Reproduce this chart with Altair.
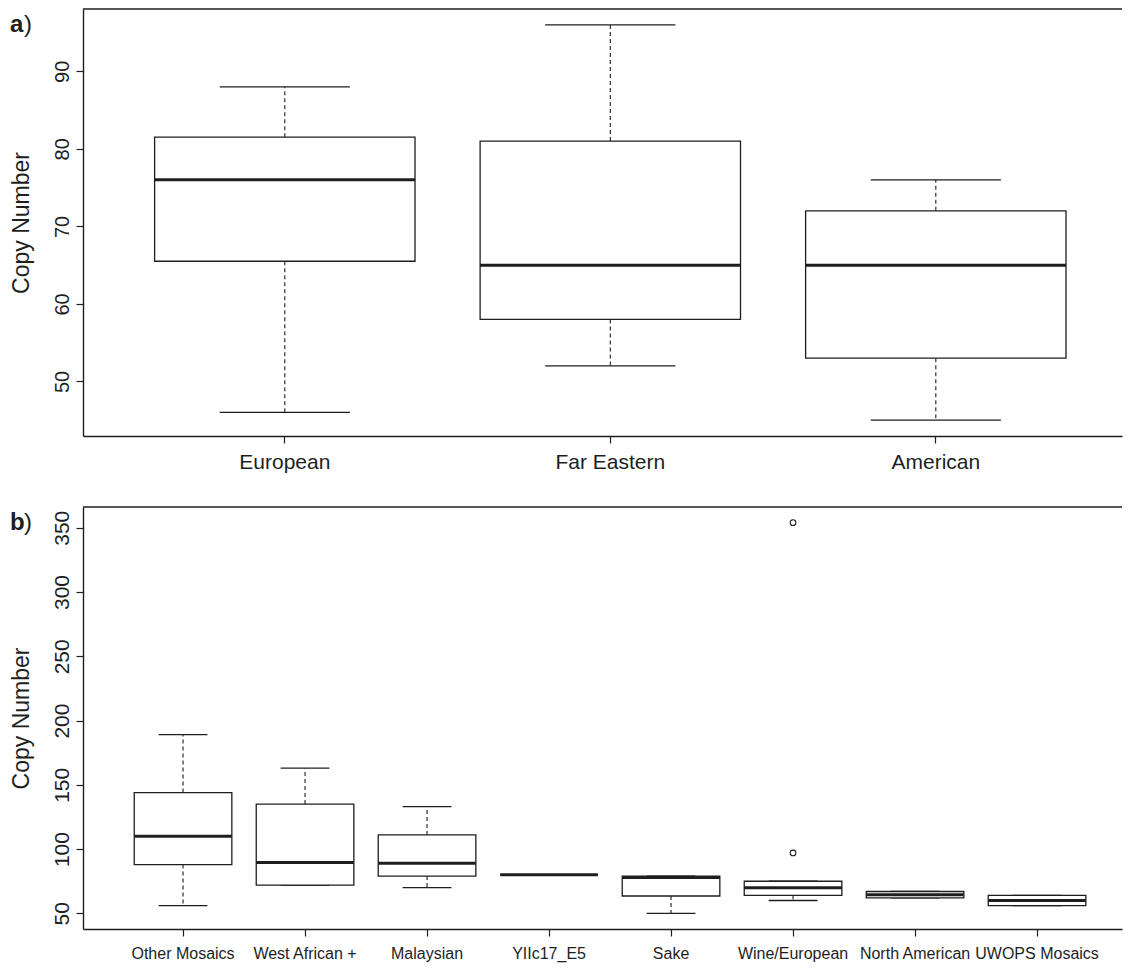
import altair as alt
import pandas as pd

# ---------------- data ----------------
# panel a
groups_a = ["European", "Far Eastern", "American"]
lower_a = [46, 52, 45]
q1_a = [65.5, 58, 53]
median_a = [76, 65, 65]
q3_a = [81.5, 81, 72]
upper_a = [88, 96, 76]
outlier_groups_a = []
outlier_values_a = []
yticks_a = [50, 60, 70, 80, 90]

# panel b
groups_b = ["Other Mosaics", "West African +", "Malaysian", "YIIc17_E5",
            "Sake", "Wine/European", "North American", "UWOPS Mosaics"]
lower_b = [56, 72, 70, 80, 50, 60, 62, 56]
q1_b = [88, 72, 79, 80, 63.5, 64, 62, 56]
median_b = [110, 89.5, 89, 80, 78, 70, 64.5, 60]
q3_b = [144, 135, 111, 80, 79, 75, 67, 64]
upper_b = [189, 163, 133, 80, 79, 75, 67, 64]
outlier_groups_b = ["Wine/European", "Wine/European"]
outlier_values_b = [354, 97]
yticks_b = [50, 100, 150, 200, 250, 300, 350]

# ---------------- styling ----------------
INK = "#1e1e1e"
FONT = "Liberation Sans"
W = 1039          # visible plot width (the reference frame runs off the right edge)


def panel(groups, lower, q1, med, q3, upper, out_g, out_v, yticks, letter,
          step, H, xlab_size, xlab_pad, ylab_size):
    n = len(groups)
    # R-style layout: boxes 0.8 wide, 4 % axis extension on each side
    left_units = 0.04 * n + 0.5 - 0.4           # gap before first box, in steps
    pad_outer = (W / step - (n - 0.2)) / 2
    align = (left_units * step) / (W - step * (n - 0.2))
    band = 0.8 * step
    cap = 0.4 * step
    allv = lower + upper + out_v
    lo, hi = min(allv), max(allv)
    ext = 0.04 * (hi - lo)
    dom = [lo - ext, hi + ext]

    df = pd.DataFrame(dict(group=groups, lower=lower, q1=q1, median=med,
                           q3=q3, upper=upper))
    xs = alt.Scale(type="band", domain=groups, paddingInner=0.2,
                   paddingOuter=pad_outer, align=align)
    ys = alt.Scale(domain=dom, nice=False, zero=False)

    xaxis = alt.Axis(title=None, labelFontSize=xlab_size, labelPadding=xlab_pad,
                     tickSize=7, tickColor=INK, tickWidth=1.2, domainColor=INK,
                     domainWidth=1.4, labelColor=INK, labelFont=FONT,
                     labelAngle=0, labelOverlap=False, grid=False)
    yaxis = alt.Axis(title="Copy Number", values=yticks, labelAngle=270,
                     labelAlign="center", labelBaseline="middle",
                     labelPadding=14, labelFontSize=ylab_size, labelColor=INK,
                     labelFont=FONT, labelOverlap=False, tickSize=7,
                     tickColor=INK, tickWidth=1.2, domainColor=INK,
                     domainWidth=1.4, grid=False, titleFont=FONT,
                     titleFontSize=23, titleFontWeight="normal",
                     titleColor=INK, titleAngle=270, titleAlign="center",
                     titleBaseline="bottom", titleX=-50, titleY=H / 2)

    # every layer carries the identical axis definition so they merge cleanly
    def Xe():
        return alt.X("group:N", scale=xs, axis=xaxis)

    def Ye(f):
        return alt.Y(f + ":Q", scale=ys, axis=yaxis)

    base = alt.Chart(df)
    whisk_up = base.mark_rule(color=INK, strokeWidth=1.1, strokeDash=[4, 3]).encode(
        x=Xe(), y=Ye("q3"), y2="upper:Q")
    whisk_lo = base.mark_rule(color=INK, strokeWidth=1.1, strokeDash=[4, 3]).encode(
        x=Xe(), y=Ye("q1"), y2="lower:Q")
    cap_up = base.mark_tick(color=INK, size=cap, thickness=1.3, opacity=1,
                            orient="horizontal").encode(x=Xe(), y=Ye("upper"))
    cap_lo = base.mark_tick(color=INK, size=cap, thickness=1.3, opacity=1,
                            orient="horizontal").encode(x=Xe(), y=Ye("lower"))
    box = base.mark_bar(fill="white", stroke=INK, strokeWidth=1.3, opacity=1).encode(
        x=Xe(), y=Ye("q1"), y2="q3:Q")
    mid = base.mark_tick(color=INK, size=band, thickness=3, opacity=1,
                         orient="horizontal").encode(x=Xe(), y=Ye("median"))
    layers = [whisk_up, whisk_lo, cap_up, cap_lo, box, mid]

    if out_v:
        odf = pd.DataFrame(dict(group=out_g, value=out_v))
        pts = alt.Chart(odf).mark_point(shape="circle", filled=False, size=32,
                                        strokeWidth=1.1, color=INK, opacity=1).encode(
            x=Xe(), y=Ye("value"))
        layers.append(pts)

    one = pd.DataFrame({"k": [0]})
    top = alt.Chart(one).mark_rule(color=INK, strokeWidth=1.4).encode(
        x=alt.value(0), x2=alt.value("width"), y=alt.value(0))
    let1 = alt.Chart(one).mark_text(text=letter, font=FONT, fontSize=24,
                                    fontWeight="bold", align="left",
                                    baseline="top", color=INK).encode(
        x=alt.value(-73), y=alt.value(3.5))
    let2 = alt.Chart(one).mark_text(text=")", font=FONT, fontSize=24,
                                    align="left", baseline="top",
                                    color=INK).encode(
        x=alt.value(-59), y=alt.value(3.5))
    layers += [top, let1, let2]
    return alt.layer(*layers).properties(width=W, height=H)


pa = panel(groups_a, lower_a, q1_a, median_a, q3_a, upper_a,
           outlier_groups_a, outlier_values_a, yticks_a, "a",
           step=325.5, H=427, xlab_size=21, xlab_pad=8, ylab_size=20)
pb = panel(groups_b, lower_b, q1_b, median_b, q3_b, upper_b,
           outlier_groups_b, outlier_values_b, yticks_b, "b",
           step=122, H=422, xlab_size=16, xlab_pad=9, ylab_size=21)

chart = alt.vconcat(pa, pb, spacing=34).properties(
    padding={"left": 2, "top": 0, "right": 0, "bottom": 6},
    background="white",
).configure(font=FONT).configure_view(stroke=None)

chart.save("out.html", embed_options={"renderer": "svg", "actions": False})
